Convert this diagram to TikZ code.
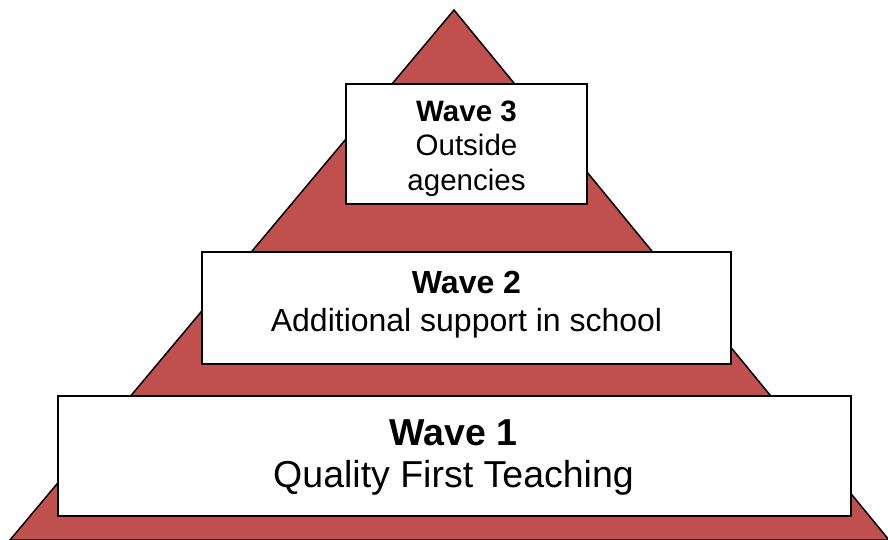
\documentclass[tikz,border=0pt]{standalone}
\usepackage{fontspec}
\setmainfont{Liberation Sans}
\definecolor{pyrred}{HTML}{C0504D}
\begin{document}
\begin{tikzpicture}[x=1pt,y=-1pt,
  wavebox/.style={draw=black,line width=1.6pt,fill=white,inner sep=0pt},
  wavetext/.style={align=center,inner sep=0pt,text=black}]
\useasboundingbox (0,0) rectangle (888,540);
\coordinate (apex) at (454,10);
\coordinate (bl) at (10,540);
\coordinate (br) at (889,540);
\draw[fill=pyrred,draw=black,line width=1.5pt,line join=miter] (apex) -- (br) -- (bl) -- cycle;
% Wave 3
\node[wavebox,minimum width=241pt,minimum height=120pt] (b3) at (466.5,144) {};
\node[wavetext,font=\fontsize{29.5}{34.5}\selectfont] (t3) at (466.5,148.5) {\textbf{Wave 3}\\Outside\\agencies};
% Wave 2
\node[wavebox,minimum width=529pt,minimum height=112pt] (b2) at (466.5,308) {};
\node[wavetext,font=\fontsize{32}{38}\selectfont] (t2) at (466.5,304.5) {\textbf{Wave 2}\\Additional support in school};
% Wave 1
\node[wavebox,minimum width=793pt,minimum height=120pt] (b1) at (454.5,456) {};
\node[wavetext,font=\fontsize{37.5}{42.5}\selectfont] (t1) at (453.5,457.5) {\textbf{Wave 1}\\Quality First Teaching};
\end{tikzpicture}
\end{document}
